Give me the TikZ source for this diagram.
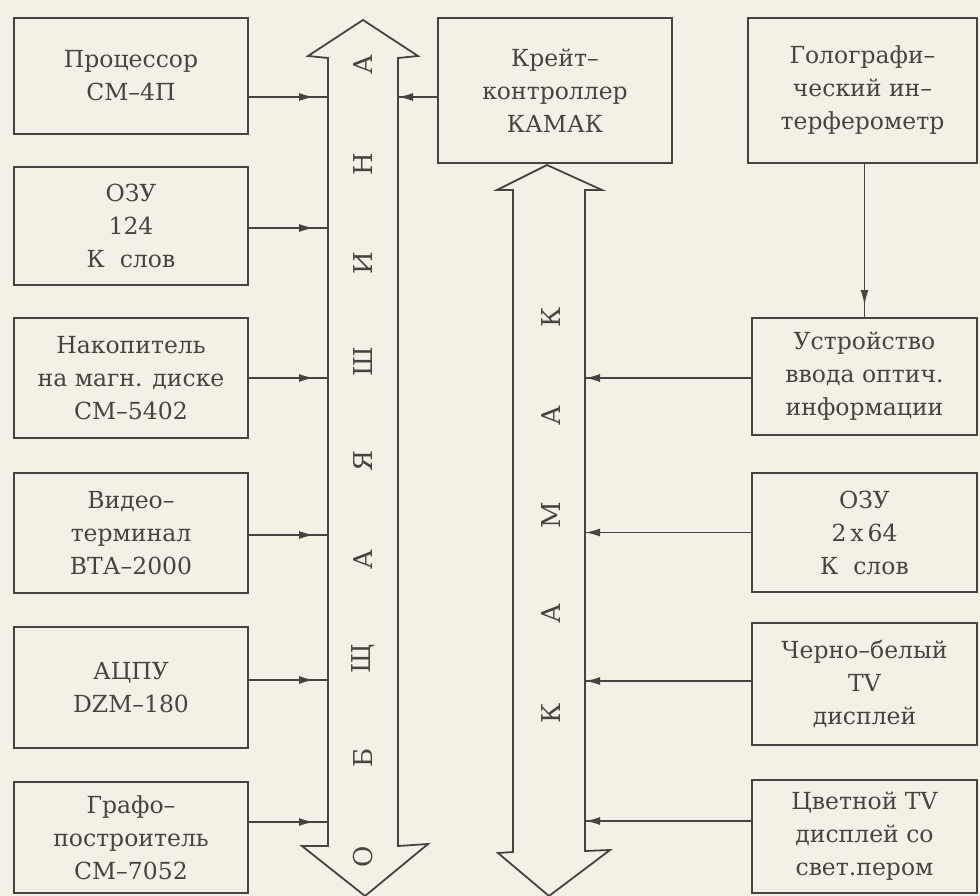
\documentclass[tikz,border=0pt]{standalone}
\usepackage{fontspec}
\setmainfont{DejaVu Serif}
\usetikzlibrary{arrows.meta,decorations.markings}
\definecolor{ink}{RGB}{70,68,64}
\definecolor{paper}{RGB}{244,240,229}
\begin{document}
\begin{tikzpicture}[x=1pt, y=-1pt, >={Latex[length=15pt,width=8pt]},
          every node/.style = {text=ink, font=\fontsize{23.5}{33}\selectfont},
          block/.style = {draw=ink, line width=1.8pt, align=center, inner sep=0pt},
          lblock/.style = {block, minimum width=234pt},
          rblock/.style = {block, minimum width=225pt},
          bus/.style = {draw=ink, line width=1.8pt, line join=miter},
          busletter/.style = {rotate=90, inner sep=0pt, font=\fontsize{26}{26}\selectfont},
          feed/.style = {draw=ink, line width=1.6pt, postaction={decorate,
              decoration={markings, mark=at position #1 with {\arrow{>}}}}},
          feed/.default = -14pt]
\fill[paper] (0,0) rectangle (980,896);
\useasboundingbox (0,0) rectangle (980,896);
% left column
\node[lblock, minimum height=116pt] (proc) at (131,76) {Процессор\\СМ–4П};
\node[lblock, minimum height=118pt] (ozu) at (131,226) {ОЗУ\\124\\К\ \ слов};
\node[lblock, minimum height=120pt] (nak) at (131,378) {Накопитель\\на магн. диске\\СМ–5402};
\node[lblock, minimum height=120pt] (vid) at (131,533) {Видео–\\терминал\\ВТА–2000};
\node[lblock, minimum height=121pt] (acpu) at (131,687.5) {АЦПУ\\DZM–180};
\node[lblock, minimum height=111pt] (graf) at (131,837.5) {Графо–\\построитель\\СМ–7052};
% middle and right column
\node[lblock, minimum height=145pt] (crate) at (555,90.5) {Крейт–\\контроллер\\КАМАК};
\node[block, minimum width=229pt, minimum height=145pt] (golo) at (862.5,90.5) {Голографи–\\ческий ин–\\терферометр};
\node[rblock, minimum height=117pt] (ustr) at (864.5,376.5) {Устройство\\ввода оптич.\\информации};
\node[rblock, minimum height=119pt] (ozud) at (864.5,532.5) {ОЗУ\\2\,x\,64\\К\ \ слов};
\node[rblock, minimum height=122pt] (chb) at (864.5,684) {Черно–белый\\TV\\дисплей};
\node[rblock, minimum height=113pt] (cvet) at (864.5,836.5) {Цветной TV\\дисплей со\\свет.пером};
% buses
\coordinate (obshW) at (328,0);
\coordinate (obshE) at (398,0);
\coordinate (kamakE) at (585,0);
\draw[bus] (328,58) -- (308,56) -- (363,20) -- (418,56) -- (398,58) -- (398,846)
  -- (428,844) -- (365,896) -- (302,846) -- (328,846) -- cycle;
\draw[bus] (513,190) -- (497,190) -- (547,165) -- (602,190) -- (585,190) -- (585,851)
  -- (610,850) -- (549,896) -- (498,853) -- (513,852) -- cycle;
\foreach \l [count=\i from 0] in {О,Б,Щ,А,Я,Ш,И,Н,А}
  \node[busletter] (ob\i) at (363,{857-99*\i}) {\l};
\foreach \l [count=\i from 0] in {К,А,М,А,К}
  \node[busletter] (km\i) at (551,{713-99*\i}) {\l};
% connectors
\foreach \b/\s in {proc/-21pt, ozu/-2pt, nak/0pt, vid/-2pt, acpu/7.5pt, graf/15.5pt}
  \draw[feed] ([yshift=\s]\b.east) coordinate (t) -- (t -| obshW);
\draw[feed=1] ([yshift=-6.5pt]crate.west) coordinate (t) -- (t -| obshE);
\foreach \b/\s in {ustr/-1.5pt, ozud/0pt, chb/3pt, cvet/15.5pt}
  \draw[feed=1] ([yshift=\s]\b.west) coordinate (t) -- (t -| kamakE);
\draw[feed=-12pt] (golo.south -| ustr.north) -- (ustr.north);
\end{tikzpicture}
\end{document}
